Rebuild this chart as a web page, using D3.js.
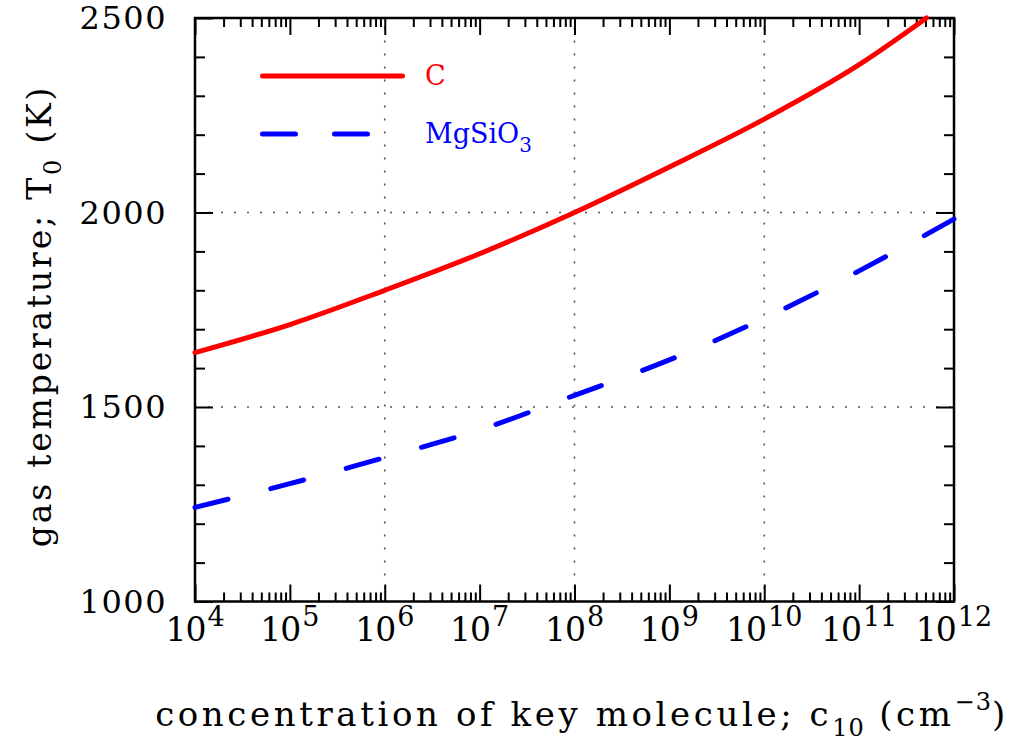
<!DOCTYPE html>
<html>
<head>
<meta charset="utf-8">
<script src="https://cdn.jsdelivr.net/npm/d3@7"></script>
<style>
  html, body { margin: 0; padding: 0; background: #fff; }
  svg { display: block; }
  .tick text { display: none; }
</style>
</head>
<body>
<svg id="chart" width="1020" height="744"></svg>
<script>
// log10 of the key-molecule concentration (cm^-3)
const logConcC = [4, 5, 6, 7, 8, 9, 10, 11, 11.71];
// gas temperature T0 (K) for carbon
const tempC = [1640, 1712, 1800, 1894, 2000, 2117, 2240, 2380, 2500];

const logConcMg = [4, 5, 6, 7, 8, 9, 10, 11, 12];
// gas temperature T0 (K) for MgSiO3
const tempMg = [1242, 1303, 1370, 1441, 1530, 1621, 1728, 1850, 1983];

const xDecades = [4, 5, 6, 7, 8, 9, 10, 11, 12];
const xGrid = [6, 8, 10];
const yMajor = [1000, 1500, 2000, 2500];
const yGrid = [1500, 2000];

const svg = d3.select("#chart");
const L = 195, R = 954, T = 18, B = 601.5;

const x = d3.scaleLog().domain([1e4, 1e12]).range([L, R]);
const y = d3.scaleLinear().domain([1000, 2500]).range([B, T]);

const serif = "'DejaVu Serif', serif";

// minor ticks: 2..9 within each decade
const xMinor = [];
xDecades.slice(0, -1).forEach(d => {
  for (let k = 2; k <= 9; k++) xMinor.push(k * Math.pow(10, d));
});
const xMajorVals = xDecades.map(d => Math.pow(10, d));
const yMinor = d3.range(1000, 2501, 100).filter(v => !yMajor.includes(v));

// grid lines
const grid = svg.append("g")
  .attr("stroke", "#555").attr("stroke-width", 1.6)
  .attr("stroke-dasharray", "2 11").attr("fill", "none");
grid.selectAll(".gx").data(xGrid).join("line")
  .attr("x1", d => x(Math.pow(10, d))).attr("x2", d => x(Math.pow(10, d)))
  .attr("y1", B).attr("y2", T);
grid.selectAll(".gy").data(yGrid).join("line")
  .attr("x1", L).attr("x2", R)
  .attr("y1", d => y(d)).attr("y2", d => y(d));

// axis ticks (inward) on all four sides
function addAxis(axis, tx, ty) {
  const g = svg.append("g").attr("transform", `translate(${tx},${ty})`).call(axis);
  g.select(".domain").remove();
  g.selectAll(".tick line").attr("stroke", "#000").attr("stroke-width", 2);
  return g;
}
addAxis(d3.axisBottom(x).tickValues(xMajorVals).tickSize(-17).tickFormat(""), 0, B);
addAxis(d3.axisBottom(x).tickValues(xMinor).tickSize(-9).tickFormat(""), 0, B);
addAxis(d3.axisTop(x).tickValues(xMajorVals).tickSize(-17).tickFormat(""), 0, T);
addAxis(d3.axisTop(x).tickValues(xMinor).tickSize(-9).tickFormat(""), 0, T);
addAxis(d3.axisLeft(y).tickValues(yMajor).tickSize(-18).tickFormat(""), L, 0);
addAxis(d3.axisLeft(y).tickValues(yMinor).tickSize(-10).tickFormat(""), L, 0);
addAxis(d3.axisRight(y).tickValues(yMajor).tickSize(-18).tickFormat(""), R, 0);
addAxis(d3.axisRight(y).tickValues(yMinor).tickSize(-10).tickFormat(""), R, 0);

// frame
svg.append("rect").attr("x", L).attr("y", T).attr("width", R - L).attr("height", B - T)
  .attr("fill", "none").attr("stroke", "#000").attr("stroke-width", 2.5);

// curves
const line = d3.line()
  .x(d => x(Math.pow(10, d[0])))
  .y(d => y(d[1]))
  .curve(d3.curveMonotoneX);

svg.append("path")
  .datum(d3.zip(logConcC, tempC))
  .attr("d", line)
  .attr("fill", "none").attr("stroke", "#ff0000").attr("stroke-width", 5)
  .attr("stroke-linecap", "round");

const mgPath = svg.append("path")
  .datum(d3.zip(logConcMg, tempMg))
  .attr("d", line)
  .attr("fill", "none").attr("stroke", "#0000ff").attr("stroke-width", 5)
  .attr("stroke-linecap", "round");
// long dashes: 11 dashes, the last one finishing at the right edge
const dashLen = 34;
const period = (mgPath.node().getTotalLength() - dashLen) / 10;
mgPath.attr("stroke-dasharray", `${dashLen} ${period - dashLen}`);

// x tick labels: 10 with superscript exponent
const xl = svg.append("g").attr("font-family", serif).attr("fill", "#000");
xDecades.forEach(d => {
  const t = xl.append("text")
    .attr("x", x(Math.pow(10, d))).attr("y", 641)
    .attr("text-anchor", "middle").attr("font-size", 33);
  t.append("tspan").text("10").attr("letter-spacing", "-1");
  t.append("tspan").text(d).attr("font-size", 27).attr("dy", -15).attr("dx", 2);
});

// y tick labels
svg.append("g").attr("font-family", serif).attr("font-size", 32)
  .selectAll("text").data(yMajor).join("text")
  .attr("x", 167).attr("y", d => y(d) + 11)
  .attr("text-anchor", "end").attr("letter-spacing", "1.5")
  .text(d => d);

// x title
const xt = svg.append("text")
  .attr("x", 582).attr("y", 726).attr("text-anchor", "middle")
  .attr("font-family", serif).attr("font-size", 34).attr("fill", "#000")
  .attr("letter-spacing", "3.6");
xt.append("tspan").text("concentration of key molecule; c");
xt.append("tspan").text("10").attr("font-size", 24).attr("dy", 10).attr("letter-spacing", "1");
xt.append("tspan").text(" (cm").attr("dy", -10);
xt.append("tspan").text("\u22123").attr("font-size", 24).attr("dy", -16).attr("letter-spacing", "1");
xt.append("tspan").text(")").attr("dy", 16);

// y title
const yt = svg.append("text")
  .attr("transform", "translate(51,316) rotate(-90)")
  .attr("text-anchor", "middle")
  .attr("font-family", serif).attr("font-size", 33).attr("fill", "#000")
  .attr("letter-spacing", "2.8");
yt.append("tspan").text("gas temperature; T");
yt.append("tspan").text("0").attr("font-size", 24).attr("dy", 10);
yt.append("tspan").text(" (K)").attr("dy", -10);

// legend
const legend = [
  { name: "C", color: "#ff0000", dash: null, y: 76 },
  { name: "MgSiO", sub: "3", color: "#0000ff", dash: "33 39", y: 134 }
];
legend.forEach(item => {
  svg.append("line")
    .attr("x1", 262.5).attr("x2", 402.5).attr("y1", item.y).attr("y2", item.y)
    .attr("stroke", item.color).attr("stroke-width", 5).attr("stroke-linecap", "round")
    .attr("stroke-dasharray", item.dash);
  const t = svg.append("text")
    .attr("x", 425).attr("y", item.y + 9)
    .attr("font-family", serif).attr("font-size", 27).attr("fill", item.color);
  t.append("tspan").text(item.name);
  if (item.sub) t.append("tspan").text(item.sub).attr("font-size", 20).attr("dy", 9);
});
</script>
</body>
</html>
